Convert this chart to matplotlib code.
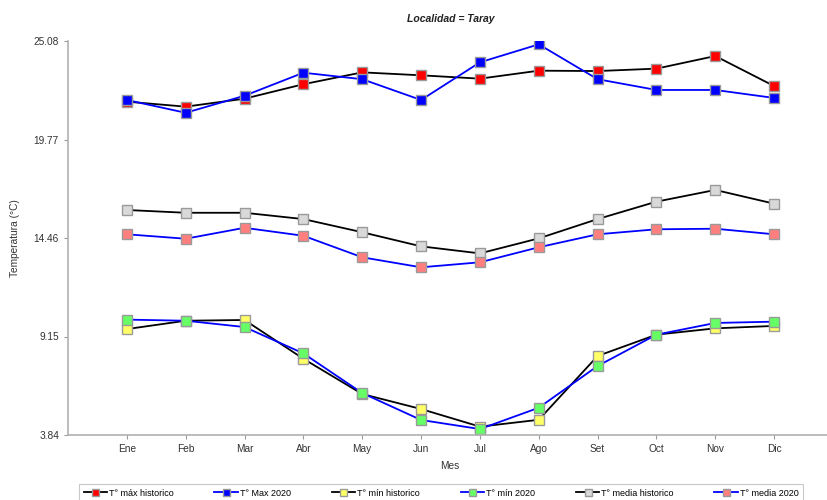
import matplotlib
matplotlib.use("Agg")
from matplotlib import pyplot as plt
import numpy as np

plt.rcParams['font.family'] = ['Liberation Sans', 'DejaVu Sans']

meses = ['Ene', 'Feb', 'Mar', 'Abr', 'May', 'Jun', 'Jul', 'Ago', 'Set', 'Oct', 'Nov', 'Dic']
yticks = [3.84, 9.15, 14.46, 19.77, 25.08]

tmax_hist = [21.81, 21.54, 21.97, 22.75, 23.39, 23.23, 23.05, 23.48, 23.46, 23.59, 24.27, 22.65]
tmax_2020 = [21.90, 21.21, 22.13, 23.37, 23.02, 21.90, 23.93, 24.90, 23.02, 22.44, 22.44, 22.01]
tmin_hist = [9.55, 10.00, 10.04, 7.95, 6.05, 5.24, 4.29, 4.66, 8.10, 9.25, 9.59, 9.72]
tmin_2020 = [10.06, 10.00, 9.66, 8.24, 6.10, 4.65, 4.16, 5.31, 7.56, 9.25, 9.88, 9.95]
tmed_hist = [15.97, 15.82, 15.82, 15.48, 14.77, 14.01, 13.63, 14.44, 15.48, 16.42, 17.05, 16.31]
tmed_2020 = [14.66, 14.42, 15.01, 14.58, 13.42, 12.88, 13.15, 13.96, 14.66, 14.93, 14.96, 14.66]

series = [
    ('T° máx historico', tmax_hist, 'black', '#ff0000'),
    ('T° Max 2020', tmax_2020, '#0000ff', '#0000ff'),
    ('T° mín historico', tmin_hist, 'black', '#ffff66'),
    ('T° mín 2020', tmin_2020, '#0000ff', '#66ff66'),
    ('T° media historico', tmed_hist, 'black', '#d9d9d9'),
    ('T° media 2020', tmed_2020, '#0000ff', '#ff7f7f'),
]

W, H = 827, 500
fig = plt.figure(figsize=(W / 100, H / 100), dpi=100)
ax = fig.add_axes([68 / W, 1 - 435 / H, (833 - 68) / W, (435 - 41) / H])

x = np.arange(len(meses))
for label, vals, lc, fc in series:
    ax.plot(x, vals, color=lc, lw=1.3, marker='s', markersize=7.2,
            markerfacecolor=fc, markeredgecolor='#9a9a9a', markeredgewidth=1.0,
            label=label)

ax.set_xlim(-1, 12)
ax.set_ylim(3.84, 25.08)
ax.set_xticks(x)
ax.set_xticklabels(meses)
ax.set_yticks(yticks)
ax.set_yticklabels(['%.2f' % v for v in yticks])

for s in ['top', 'right']:
    ax.spines[s].set_visible(False)
for s in ['left', 'bottom']:
    ax.spines[s].set_color('#b0b0b0')
    ax.spines[s].set_linewidth(1.2)
ax.tick_params(axis='both', colors='#9a9a9a', labelcolor='#333333', labelsize=7.3,
               length=3, width=0.8)

ax.set_title('Localidad = Taray', fontsize=7.5, fontweight='bold', fontstyle='italic',
             color='#222222', pad=14)
fig.text(15 / W, 1 - 238 / H, 'Temperatura (°C)', rotation=90, ha='center', va='center',
         fontsize=7.3, color='#333333')
fig.text(450 / W, 1 - 466 / H, 'Mes', ha='center', va='center', fontsize=7.3, color='#333333')

handles, labels = ax.get_legend_handles_labels()
leg = fig.legend(handles, labels, loc='upper left', ncol=6, mode='expand',
                 bbox_to_anchor=(79 / W, 1 - 484 / H, (803 - 79) / W, 0.0),
                 fontsize=6.5, frameon=True, fancybox=False, handlelength=2.6,
                 handletextpad=0.2, borderpad=0.5, borderaxespad=0, markerscale=0.7)
leg.get_frame().set_edgecolor('#bbbbbb')
leg.get_frame().set_linewidth(0.8)

fig.savefig('out.png', dpi=100)
